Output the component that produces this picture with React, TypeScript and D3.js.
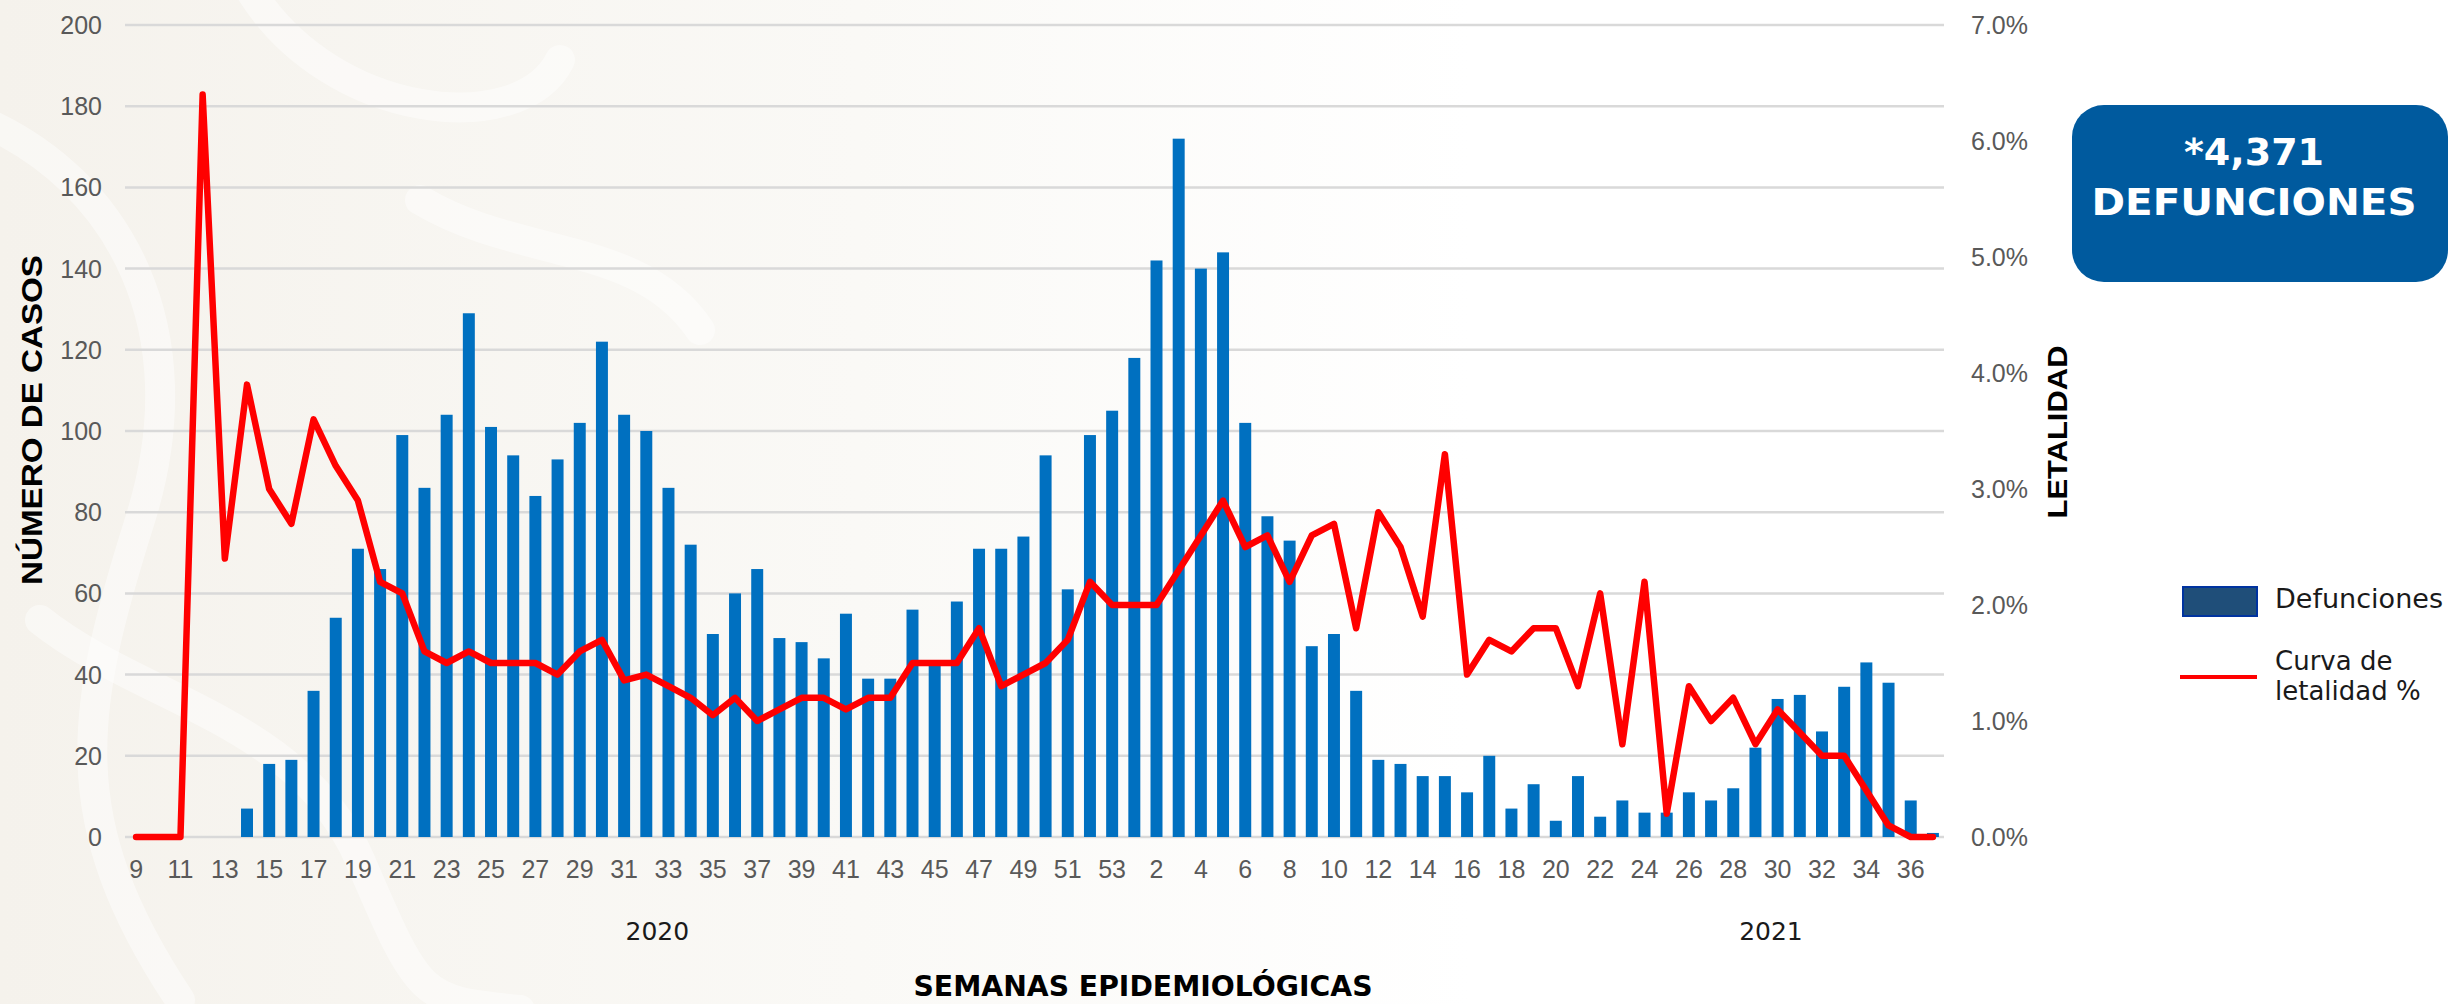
import React from "react";
import * as d3 from "d3";

const weeks2020 = ["9","10","11","12","13","14","15","16","17","18","19","20","21","22","23","24","25","26","27","28","29","30","31","32","33","34","35","36","37","38","39","40","41","42","43","44","45","46","47","48","49","50","51","52","53"];
const weeks2021 = ["1","2","3","4","5","6","7","8","9","10","11","12","13","14","15","16","17","18","19","20","21","22","23","24","25","26","27","28","29","30","31","32","33","34","35","36","37"];

const deaths2020 = [0,0,0,0,0,7,18,19,36,54,71,66,99,86,104,129,101,94,84,93,102,122,104,100,86,72,50,60,66,49,48,44,55,39,39,56,43,58,71,71,74,94,61,99,105];
const deaths2021 = [118,142,172,140,144,102,79,73,47,50,36,19,18,15,15,11,20,7,13,4,15,5,9,6,6,11,9,12,22,34,35,26,37,43,38,9,1];

const lethality2020 = [0,0,0,6.4,2.4,3.9,3.0,2.7,3.6,3.2,2.9,2.2,2.1,1.6,1.5,1.6,1.5,1.5,1.5,1.4,1.6,1.7,1.35,1.4,1.3,1.2,1.05,1.2,1.0,1.1,1.2,1.2,1.1,1.2,1.2,1.5,1.5,1.5,1.8,1.3,1.4,1.5,1.7,2.2,2.0];
const lethality2021 = [2.0,2.0,2.3,2.6,2.9,2.5,2.6,2.2,2.6,2.7,1.8,2.8,2.5,1.9,3.3,1.4,1.7,1.6,1.8,1.8,1.3,2.1,0.8,2.2,0.2,1.3,1.0,1.2,0.8,1.1,0.9,0.7,0.7,0.4,0.1,0,0];

const leftTicks = [0,20,40,60,80,100,120,140,160,180,200];
const rightTicks = [0,1,2,3,4,5,6,7];
const years = ["2020","2021"];
const yearAnchorWeeks = ["2020-32","2021-30"];
const yearAnchorShift = [0.5, -0.3];

type Row = { key: string; label: string; deaths: number; lethality: number };

const rows: Row[] = [
  ...weeks2020.map((w, i) => ({ key: `2020-${w}`, label: w, deaths: deaths2020[i], lethality: lethality2020[i] })),
  ...weeks2021.map((w, i) => ({ key: `2021-${w}`, label: w, deaths: deaths2021[i], lethality: lethality2021[i] })),
];

const W = 2451;
const H = 1004;
const plotLeft = 125;
const plotRight = 1944;
const plotTop = 25;
const plotBottom = 837;

const tickFont = "'Liberation Sans', Arial, sans-serif";
const geoFont = "'DejaVu Sans', 'Noto Sans', sans-serif";

export default function App() {
  const x = d3.scaleBand<string>().domain(rows.map((r) => r.key)).range([plotLeft, plotRight]).paddingInner(0.46).paddingOuter(0.23);
  const yL = d3.scaleLinear().domain([0, 200]).range([plotBottom, plotTop]);
  const yR = d3.scaleLinear().domain([0, 7]).range([plotBottom, plotTop]);
  const cx = (k: string) => (x(k) as number) + x.bandwidth() / 2;
  const line = d3.line<Row>().x((d) => cx(d.key)).y((d) => yR(d.lethality));
  const fmtPct = d3.format(".1f");

  return (
    <div style={{ position: "absolute", left: 0, top: 0, width: W, height: H }}>
      <svg width={W} height={H} viewBox={`0 0 ${W} ${H}`} style={{ display: "block" }}>
        <defs>
          <linearGradient id="bg" x1="0" y1="0" x2="1" y2="0">
            <stop offset="0" stopColor="#f5f2ec" />
            <stop offset="0.35" stopColor="#faf9f6" />
            <stop offset="0.6" stopColor="#ffffff" />
          </linearGradient>
        </defs>
        <rect x={0} y={0} width={W} height={H} fill="url(#bg)" />
        <g fill="none" stroke="#ffffff" strokeOpacity={0.45} strokeWidth={30} strokeLinecap="round">
          <path d="M -20 120 C 120 180, 200 330, 140 520 S 60 820, 180 1000" />
          <path d="M 250 -10 C 330 120, 520 140, 560 60" />
          <path d="M 40 620 C 140 700, 300 720, 360 860 S 420 1000, 520 1010" />
          <path d="M 420 200 C 520 260, 640 240, 700 330" />
        </g>

        {leftTicks.map((t) => (
          <line key={`g${t}`} x1={plotLeft} x2={plotRight} y1={yL(t)} y2={yL(t)} stroke="#d9d9d9" strokeWidth={2.5} />
        ))}

        {rows.map((r) => (
          <rect key={r.key} x={x(r.key)} y={yL(r.deaths)} width={x.bandwidth()} height={plotBottom - yL(r.deaths)} fill="#0070C0" />
        ))}

        <path d={line(rows) || ""} fill="none" stroke="#FF0000" strokeWidth={6.5} strokeLinejoin="round" strokeLinecap="round" />

        {leftTicks.map((t) => (
          <text key={`l${t}`} x={102} y={yL(t) + 9} textAnchor="end" fontFamily={tickFont} fontSize={25} fill="#595959">{t}</text>
        ))}
        {rightTicks.map((t) => (
          <text key={`r${t}`} x={1971} y={yR(t) + 9} textAnchor="start" fontFamily={tickFont} fontSize={25} fill="#595959">{`${fmtPct(t)}%`}</text>
        ))}
        {rows.map((r, i) =>
          i % 2 === 0 ? (
            <text key={`x${r.key}`} x={cx(r.key)} y={878} textAnchor="middle" fontFamily={tickFont} fontSize={25} fill="#595959">{r.label}</text>
          ) : null
        )}

        {years.map((yr, i) => (
          <text key={yr} x={cx(yearAnchorWeeks[i]) + yearAnchorShift[i] * x.step()} y={940} textAnchor="middle" fontFamily={geoFont} fontSize={25} fill="#1a1a1a">{yr}</text>
        ))}

        <text x={1143} y={996} textAnchor="middle" fontFamily={geoFont} fontWeight="bold" fontSize={29} fill="#000" textLength={459} lengthAdjust="spacingAndGlyphs">SEMANAS EPIDEMIOLÓGICAS</text>

        <text transform="translate(42,420) rotate(-90)" textAnchor="middle" fontFamily="'Liberation Sans Narrow', 'Liberation Sans', sans-serif" fontWeight="bold" fontSize={29} fill="#000" textLength={330} lengthAdjust="spacingAndGlyphs">NÚMERO DE CASOS</text>

        <text transform="translate(2067,432) rotate(-90)" textAnchor="middle" fontFamily={tickFont} fontWeight="bold" fontSize={28} fill="#000" textLength={173} lengthAdjust="spacingAndGlyphs">LETALIDAD</text>

        <rect x={2072} y={105} width={376} height={177} rx={32} ry={32} fill="#005A9E" />
        <text x={2254} y={165} textAnchor="middle" fontFamily={geoFont} fontWeight="bold" fontSize={38} fill="#ffffff">*4,371</text>
        <text x={2254} y={215} textAnchor="middle" fontFamily={geoFont} fontWeight="bold" fontSize={38} fill="#ffffff" textLength={325} lengthAdjust="spacingAndGlyphs">DEFUNCIONES</text>

        <rect x={2183} y={587} width={74} height={29} fill="#1F4E79" stroke="#0033A0" strokeWidth={2} />
        <text x={2275} y={608} fontFamily={geoFont} fontSize={26} fill="#1a1a1a" textLength={168} lengthAdjust="spacingAndGlyphs">Defunciones</text>
        <line x1={2180} x2={2257} y1={677} y2={677} stroke="#FF0000" strokeWidth={4} />
        <text x={2275} y={670} fontFamily={geoFont} fontSize={26} fill="#1a1a1a">Curva de</text>
        <text x={2275} y={700} fontFamily={geoFont} fontSize={26} fill="#1a1a1a">letalidad %</text>
      </svg>
    </div>
  );
}
